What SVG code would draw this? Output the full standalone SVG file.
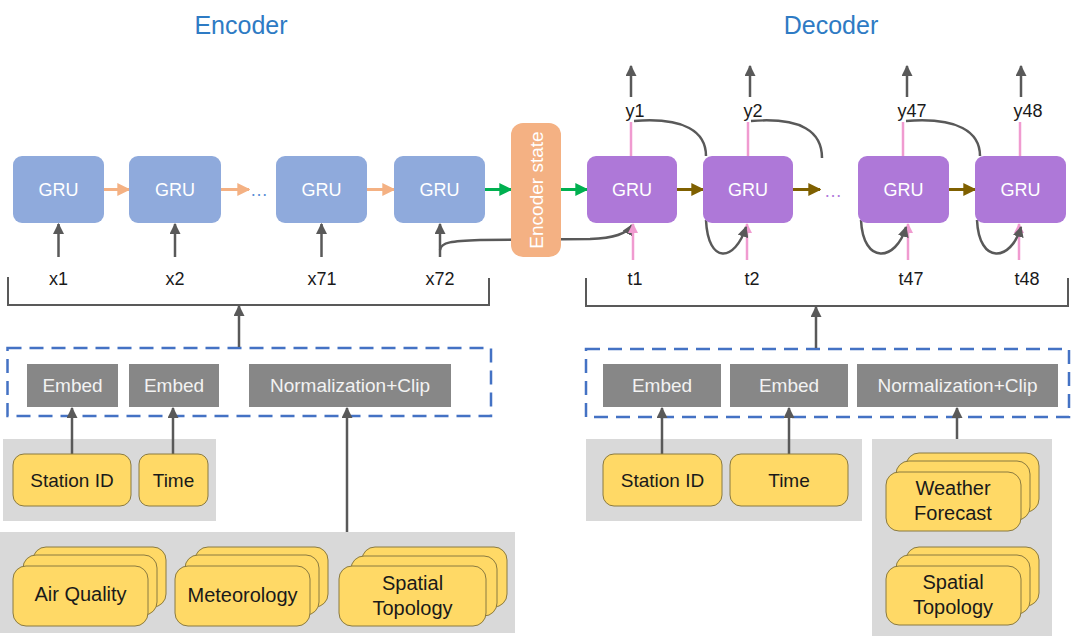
<svg xmlns="http://www.w3.org/2000/svg" width="1080" height="636" viewBox="0 0 1080 636">
<style>
text{font-family:"Liberation Sans",Arial,sans-serif}
.title{font-size:25px;fill:#2E7BC4;text-anchor:middle}
.gru-e{fill:#8FAADC}
.gru-d{fill:#AE78D8}
.gt{font-size:18px;fill:#ffffff;text-anchor:middle}
.lbl{font-size:18px;fill:#1a1a1a;text-anchor:middle}
.emb{fill:#878787}
.et{font-size:19px;fill:#f2f2f2;text-anchor:middle}
.panel{fill:#d9d9d9}
.card{fill:#FFD966;stroke:#8a7a40;stroke-width:1}
.ct{font-size:20px;fill:#1a1a1a;text-anchor:middle}
.ct19{font-size:19px;fill:#1a1a1a;text-anchor:middle}
.dash{fill:none;stroke:#4472C4;stroke-width:2.5;stroke-dasharray:14 8}
.gl{fill:none;stroke:#595959;stroke-width:2.5}
.br{fill:none;stroke:#595959;stroke-width:2}
.pk{fill:none;stroke:#F09BD0;stroke-width:2.5}
.or{fill:none;stroke:#F4B183;stroke-width:3}
.gr{fill:none;stroke:#00B050;stroke-width:3}
.bn{fill:none;stroke:#7F6000;stroke-width:3}
.dots{font-size:18px;text-anchor:middle}
</style>
<defs>
<marker id="mg" viewBox="0 0 10 10" refX="9" refY="5" markerWidth="11" markerHeight="11" markerUnits="userSpaceOnUse" orient="auto"><path d="M0,0 L10,5 L0,10 z" fill="#595959"/></marker>
<marker id="mo" viewBox="0 0 10 10" refX="9" refY="5" markerWidth="13" markerHeight="13" markerUnits="userSpaceOnUse" orient="auto"><path d="M0,0 L10,5 L0,10 z" fill="#F4B183"/></marker>
<marker id="mgr" viewBox="0 0 10 10" refX="9" refY="5" markerWidth="13" markerHeight="13" markerUnits="userSpaceOnUse" orient="auto"><path d="M0,0 L10,5 L0,10 z" fill="#00B050"/></marker>
<marker id="mb" viewBox="0 0 10 10" refX="9" refY="5" markerWidth="13" markerHeight="13" markerUnits="userSpaceOnUse" orient="auto"><path d="M0,0 L10,5 L0,10 z" fill="#7F6000"/></marker>
<marker id="mp" viewBox="0 0 10 10" refX="9" refY="5" markerWidth="10" markerHeight="10" markerUnits="userSpaceOnUse" orient="auto"><path d="M0,0 L10,5 L0,10 z" fill="#F09BD0"/></marker>
</defs>
<rect width="1080" height="636" fill="#ffffff"/>

<text class="title" x="241" y="34">Encoder</text>
<text class="title" x="831" y="34">Decoder</text>

<g id="panels">
<rect class="panel" x="3" y="439" width="213" height="82"/>
<rect class="panel" x="0" y="532" width="515" height="101"/>
<rect class="panel" x="586" y="439" width="276" height="82"/>
<rect class="panel" x="872" y="439" width="180" height="197"/>
<rect class="dash" x="7.5" y="348" width="483.5" height="68"/>
<rect class="dash" x="586" y="349" width="483" height="68"/>
</g>

<g id="connectors">
<path class="br" d="M8,277 V305 H489 V278"/>
<path class="br" d="M586,278 V306 H1068 V278"/>
<line class="gl" x1="239" y1="347" x2="239" y2="306" marker-end="url(#mg)"/>
<line class="gl" x1="816" y1="348" x2="816" y2="307" marker-end="url(#mg)"/>
<line class="gl" x1="72" y1="454" x2="72" y2="408" marker-end="url(#mg)"/>
<line class="gl" x1="173" y1="454" x2="173" y2="408" marker-end="url(#mg)"/>
<line class="gl" x1="347" y1="532" x2="347" y2="408" marker-end="url(#mg)"/>
<line class="gl" x1="662" y1="454" x2="662" y2="408" marker-end="url(#mg)"/>
<line class="gl" x1="789" y1="454" x2="789" y2="408" marker-end="url(#mg)"/>
<line class="gl" x1="957" y1="439" x2="957" y2="408" marker-end="url(#mg)"/>
<line class="gl" x1="58.5" y1="257" x2="58.5" y2="224" marker-end="url(#mg)"/>
<line class="gl" x1="175" y1="257" x2="175" y2="224" marker-end="url(#mg)"/>
<line class="gl" x1="321.5" y1="257" x2="321.5" y2="224" marker-end="url(#mg)"/>
<line class="gl" x1="440" y1="257" x2="440" y2="224" marker-end="url(#mg)"/>
<path class="gl" d="M440,250 C441,242 452,241 480,240 L590,239 C614,238 627,234 632,225" marker-end="url(#mg)"/>
<line class="or" x1="104" y1="189.5" x2="129" y2="189.5" marker-end="url(#mo)"/>
<line class="or" x1="221" y1="189.5" x2="249" y2="189.5" marker-end="url(#mo)"/>
<line class="or" x1="367" y1="189.5" x2="394" y2="189.5" marker-end="url(#mo)"/>
<line class="gr" x1="485" y1="189.5" x2="511" y2="189.5" marker-end="url(#mgr)"/>
<line class="gr" x1="561" y1="189.5" x2="587" y2="189.5" marker-end="url(#mgr)"/>
<line class="bn" x1="677" y1="189.5" x2="703" y2="189.5" marker-end="url(#mb)"/>
<line class="bn" x1="793" y1="189.5" x2="820" y2="189.5" marker-end="url(#mb)"/>
<line class="bn" x1="949" y1="189.5" x2="975" y2="189.5" marker-end="url(#mb)"/>
<line class="pk" x1="633" y1="260" x2="633" y2="224" marker-end="url(#mp)"/>
<line class="pk" x1="747" y1="260" x2="747" y2="224" marker-end="url(#mp)"/>
<line class="pk" x1="908" y1="260" x2="908" y2="224" marker-end="url(#mp)"/>
<line class="pk" x1="1019" y1="260" x2="1019" y2="224" marker-end="url(#mp)"/>
<line class="pk" x1="631" y1="156" x2="631" y2="122"/>
<line class="pk" x1="748" y1="156" x2="748" y2="122"/>
<line class="pk" x1="903" y1="156" x2="903" y2="122"/>
<line class="pk" x1="1020" y1="156" x2="1020" y2="122"/>
<line class="gl" x1="631" y1="97" x2="631" y2="66" marker-end="url(#mg)"/>
<line class="gl" x1="750" y1="97" x2="750" y2="66" marker-end="url(#mg)"/>
<line class="gl" x1="907" y1="97" x2="907" y2="66" marker-end="url(#mg)"/>
<line class="gl" x1="1021" y1="97" x2="1021" y2="66" marker-end="url(#mg)"/>
<path class="gl" d="M634,121 C685,117 706,132 706,156"/>
<path class="gl" d="M751,121 C802,117 822,132 822,158"/>
<path class="gl" d="M906,121 C958,117 980,132 980,156"/>
<path class="gl" d="M706,220 C708,265 735,262 746,227" marker-end="url(#mg)"/>
<path class="gl" d="M861,220 C863,265 896,262 906,227" marker-end="url(#mg)"/>
<path class="gl" d="M977,220 C979,265 1011,262 1021,227" marker-end="url(#mg)"/>
</g>

<text class="dots" x="259" y="196" fill="#5B8FD6">…</text>
<text class="dots" x="833" y="197" fill="#B07ADB">…</text>

<g id="enc-gru1"><rect class="gru-e" x="13" y="156" width="91" height="67" rx="9"/><text class="gt" x="58.5" y="196">GRU</text></g>
<g id="enc-gru2"><rect class="gru-e" x="129" y="156" width="92" height="67" rx="9"/><text class="gt" x="175" y="196">GRU</text></g>
<g id="enc-gru71"><rect class="gru-e" x="276" y="156" width="91" height="67" rx="9"/><text class="gt" x="321.5" y="196">GRU</text></g>
<g id="enc-gru72"><rect class="gru-e" x="394" y="156" width="91" height="67" rx="9"/><text class="gt" x="439.5" y="196">GRU</text></g>
<g id="encoder-state"><rect x="511" y="123" width="50" height="134" rx="12" fill="#F4B183"/><text transform="translate(543,190) rotate(-90)" style="font-size:19px;fill:#ffffff;text-anchor:middle">Encoder state</text></g>
<g id="dec-gru1"><rect class="gru-d" x="587" y="156" width="90" height="67" rx="9"/><text class="gt" x="632" y="196">GRU</text></g>
<g id="dec-gru2"><rect class="gru-d" x="703" y="156" width="90" height="67" rx="9"/><text class="gt" x="748" y="196">GRU</text></g>
<g id="dec-gru47"><rect class="gru-d" x="858" y="156" width="91" height="67" rx="9"/><text class="gt" x="903.5" y="196">GRU</text></g>
<g id="dec-gru48"><rect class="gru-d" x="975" y="156" width="91" height="67" rx="9"/><text class="gt" x="1020.5" y="196">GRU</text></g>

<g id="labels">
<text class="lbl" x="58.5" y="285">x1</text>
<text class="lbl" x="175" y="285">x2</text>
<text class="lbl" x="322" y="285">x71</text>
<text class="lbl" x="440" y="285">x72</text>
<text class="lbl" x="635" y="285">t1</text>
<text class="lbl" x="752" y="285">t2</text>
<text class="lbl" x="911" y="285">t47</text>
<text class="lbl" x="1027" y="285">t48</text>
<text class="lbl" x="635" y="117">y1</text>
<text class="lbl" x="753" y="117">y2</text>
<text class="lbl" x="912" y="117">y47</text>
<text class="lbl" x="1028" y="117">y48</text>
</g>

<g id="enc-embed1"><rect class="emb" x="27" y="364" width="91" height="43"/><text class="et" x="72.5" y="392">Embed</text></g>
<g id="enc-embed2"><rect class="emb" x="129" y="364" width="90" height="43"/><text class="et" x="174" y="392">Embed</text></g>
<g id="enc-norm"><rect class="emb" x="249" y="364" width="202" height="43"/><text class="et" x="350" y="392">Normalization+Clip</text></g>
<g id="dec-embed1"><rect class="emb" x="603" y="364" width="118" height="43"/><text class="et" x="662" y="392">Embed</text></g>
<g id="dec-embed2"><rect class="emb" x="730" y="364" width="118" height="43"/><text class="et" x="789" y="392">Embed</text></g>
<g id="dec-norm"><rect class="emb" x="857" y="364" width="201" height="43"/><text class="et" x="957.5" y="392">Normalization+Clip</text></g>

<g id="enc-station"><rect class="card" x="13" y="454" width="118" height="52" rx="11"/><text class="ct19" x="72" y="487">Station ID</text></g>
<g id="enc-time"><rect class="card" x="139" y="454" width="69" height="52" rx="10"/><text class="ct19" x="173.5" y="487">Time</text></g>
<g id="dec-station"><rect class="card" x="603" y="454" width="119" height="52" rx="11"/><text class="ct19" x="662.5" y="487">Station ID</text></g>
<g id="dec-time"><rect class="card" x="730" y="454" width="118" height="52" rx="11"/><text class="ct19" x="789" y="487">Time</text></g>

<g id="air-quality">
<rect class="card" x="33" y="547" width="133" height="60" rx="13"/>
<rect class="card" x="23" y="555" width="134" height="60" rx="13"/>
<rect class="card" x="13" y="566" width="135" height="60" rx="13"/>
<text class="ct" x="80.5" y="601">Air Quality</text>
</g>
<g id="meteorology">
<rect class="card" x="195" y="547" width="133" height="60" rx="13"/>
<rect class="card" x="185" y="555" width="134" height="60" rx="13"/>
<rect class="card" x="175" y="566" width="135" height="60" rx="13"/>
<text class="ct" x="242.5" y="602">Meteorology</text>
</g>
<g id="enc-spatial">
<rect class="card" x="362" y="547" width="145" height="60" rx="13"/>
<rect class="card" x="351" y="556" width="146" height="60" rx="13"/>
<rect class="card" x="339" y="566" width="147" height="60" rx="13"/>
<text class="ct" x="412.5" y="590">Spatial</text>
<text class="ct" x="412.5" y="615">Topology</text>
</g>
<g id="weather-forecast">
<rect class="card" x="906" y="453" width="133" height="59" rx="13"/>
<rect class="card" x="896" y="461" width="134" height="59" rx="13"/>
<rect class="card" x="886" y="472" width="135" height="59" rx="13"/>
<text class="ct" x="953" y="495">Weather</text>
<text class="ct" x="953" y="520">Forecast</text>
</g>
<g id="dec-spatial">
<rect class="card" x="906" y="547" width="133" height="59" rx="13"/>
<rect class="card" x="896" y="555" width="134" height="59" rx="13"/>
<rect class="card" x="886" y="566" width="135" height="59" rx="13"/>
<text class="ct" x="953" y="589">Spatial</text>
<text class="ct" x="953" y="614">Topology</text>
</g>
</svg>
